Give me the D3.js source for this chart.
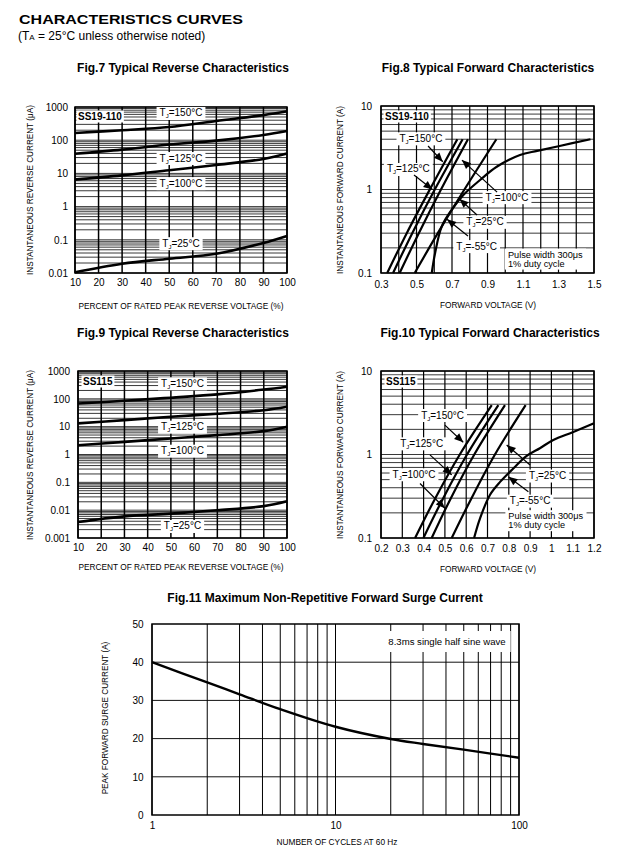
<!DOCTYPE html>
<html>
<head>
<meta charset="utf-8">
<script src="https://cdn.jsdelivr.net/npm/d3@7"></script>
<style>
  body { margin: 0; background: #fff; }
  svg text { font-family: "Liberation Sans", Arial, sans-serif; fill: #000; }
</style>
</head>
<body>
<svg id="chart" width="637" height="850"></svg>
<script>
// ---- data ----
// reverse characteristics, x = percent of rated peak reverse voltage
var revPercent = [10, 30, 50, 70, 90, 100];
var fig7T150 = [165, 200, 250, 380, 570, 740];
var fig7T125 = [39, 52, 74, 97, 144, 189];
var fig7T100 = [6.5, 8.7, 12.5, 17.9, 27.2, 40];
var fig7T25  = [0.0105, 0.019, 0.027, 0.038, 0.08, 0.13];

var fig9T150 = [68, 85, 110, 145, 215, 273];
var fig9T125 = [13.1, 17.2, 22.6, 29, 39, 52];
var fig9T100 = [2.15, 2.85, 3.76, 4.96, 6.9, 10];
var fig9T25  = [0.00375, 0.006, 0.0075, 0.0099, 0.014, 0.021];

// forward characteristics, [volts, amps]
var fig8T150 = [[0.335, 0.1], [0.445, 0.3], [0.575, 1], [0.73, 4]];
var fig8T125 = [[0.368, 0.1], [0.476, 0.3], [0.603, 1], [0.76, 4]];
var fig8T100 = [[0.405, 0.1], [0.513, 0.3], [0.638, 1], [0.79, 4]];
var fig8T25  = [[0.49, 0.1], [0.62, 0.3], [0.77, 1], [0.95, 4]];
var fig8Tm55 = [[0.586, 0.1], [0.604, 0.17], [0.642, 0.36], [0.698, 0.57], [0.764, 0.86],
                [0.858, 1.3], [0.952, 1.87], [1.083, 2.59], [1.18, 2.9], [1.3, 3.3], [1.48, 4]];

var fig10T150 = [[0.36, 0.1], [0.455, 0.3], [0.57, 1], [0.72, 3.9]];
var fig10T125 = [[0.399, 0.1], [0.492, 0.3], [0.604, 1], [0.751, 3.9]];
var fig10T100 = [[0.438, 0.1], [0.528, 0.3], [0.638, 1], [0.782, 3.9]];
var fig10T25  = [[0.532, 0.1], [0.625, 0.3], [0.735, 1], [0.879, 3.9]];
var fig10Tm55 = [[0.637, 0.1], [0.665, 0.172], [0.712, 0.33], [0.759, 0.47], [0.821, 0.68],
                 [0.884, 0.96], [0.946, 1.19], [1.009, 1.49], [1.1, 1.85], [1.2, 2.37]];

// surge current
var surgeCycles = [1, 2, 3, 5, 10, 20, 30, 50, 100];
var surgeAmps   = [40, 34.7, 31.6, 27.7, 23.1, 19.9, 18.6, 17.1, 15];

// tick labels
var revXTicks = [10, 20, 30, 40, 50, 60, 70, 80, 90, 100];
var fig7YTicks = [0.01, 0.1, 1, 10, 100, 1000];
var fig9YTicks = [0.001, 0.01, 0.1, 1, 10, 100, 1000];
var fwdYTicks = [0.1, 1, 10];
var fig8XTicks = [0.3, 0.5, 0.7, 0.9, 1.1, 1.3, 1.5];
var fig10XTicks = [0.2, 0.3, 0.4, 0.5, 0.6, 0.7, 0.8, 0.9, 1, 1.1, 1.2];
var surgeXTicks = [1, 10, 100];
var surgeYTicks = [0, 10, 20, 30, 40, 50];

var svg = d3.select("#chart");

// ---- header ----
svg.append("text").attr("x", 19).attr("y", 24)
  .attr("textLength", 224).attr("lengthAdjust", "spacingAndGlyphs")
  .style("font-size", "13.5px").style("font-weight", "bold")
  .text("CHARACTERISTICS CURVES");
var sub = svg.append("text").attr("x", 18).attr("y", 40).style("font-size", "12px");
sub.append("tspan").text("(T");
sub.append("tspan").style("font-size", "8px").text("A");
sub.append("tspan").text(" = 25°C unless otherwise noted)");

function title(x, y, txt) {
  svg.append("text").attr("x", x).attr("y", y).attr("text-anchor", "middle")
    .style("font-size", "12px").style("font-weight", "bold").text(txt);
}
title(183, 72, "Fig.7 Typical Reverse Characteristics");
title(488, 72, "Fig.8 Typical Forward Characteristics");
title(183, 337, "Fig.9 Typical Reverse Characteristics");
title(490, 337, "Fig.10 Typical Forward Characteristics");
title(325, 602, "Fig.11 Maximum Non-Repetitive Forward Surge Current");

// ---- panel builder ----
function panel(p) {
  var x = p.x.range([p.x0, p.x1]);
  var y = p.y.range([p.y1, p.y0]);
  var g = svg.append("g");

  g.append("g").selectAll("line").data(p.hGrid).join("line")
    .attr("x1", p.x0).attr("x2", p.x1)
    .attr("y1", function(d) { return y(d); }).attr("y2", function(d) { return y(d); })
    .attr("stroke", p.hColor || "#222").attr("stroke-width", p.hw || 0.9);
  g.append("g").selectAll("line").data(p.vGrid).join("line")
    .attr("y1", p.y0).attr("y2", p.y1)
    .attr("x1", function(d) { return x(d); }).attr("x2", function(d) { return x(d); })
    .attr("stroke", "#000").attr("stroke-width", p.vw || 1.2);

  g.append("rect").attr("x", p.x0).attr("y", p.y0)
    .attr("width", p.x1 - p.x0).attr("height", p.y1 - p.y0)
    .attr("fill", "none").attr("stroke", "#000").attr("stroke-width", 1.5);

  var ax = g.append("g").attr("transform", "translate(0," + p.y1 + ")")
    .call(d3.axisBottom(x).tickValues(p.xTicks).tickSize(0).tickPadding(p.xPad)
      .tickFormat(function(d) { return String(d); }));
  ax.select(".domain").remove();
  ax.attr("font-family", null).attr("font-size", null);
  ax.selectAll("text").style("font-size", "10px");

  var ay = g.append("g").attr("transform", "translate(" + p.x0 + ",0)")
    .call(d3.axisLeft(y).tickValues(p.yTicks).tickSize(0).tickPadding(p.yPad)
      .tickFormat(function(d) { return String(d); }));
  ay.select(".domain").remove();
  ay.attr("font-family", null).attr("font-size", null);
  ay.selectAll("text").style("font-size", "10px");

  g.append("text").attr("x", p.xtX).attr("y", p.xtY).attr("text-anchor", "middle")
    .style("font-size", "8.3px").text(p.xTitle);
  g.append("text").attr("transform", "translate(" + p.ytX + "," + p.ytY + ") rotate(-90)")
    .attr("text-anchor", "middle").style("font-size", "8.2px").text(p.yTitle);

  return { g: g, x: x, y: y };
}

// white box behind a piece of text
function boxedText(g, px, py, build, anchor, padX, padY) {
  var gg = g.append("g");
  var r = gg.append("rect").attr("fill", "#fff");
  build(gg, px, py, anchor || "middle");
  var b = gg.node().getBBox();
  r.attr("x", b.x - padX).attr("y", b.y - padY)
    .attr("width", b.width + 2 * padX).attr("height", b.height + 2 * padY);
  return gg;
}

function tag(g, px, py, temp) {
  boxedText(g, px, py + 3.5, function(gg, x, y, anchor) {
    var t = gg.append("text").attr("x", x).attr("y", y).attr("text-anchor", anchor)
      .style("font-size", "10px");
    t.append("tspan").text("T");
    t.append("tspan").attr("dy", 2).style("font-size", "6px").text("J");
    t.append("tspan").attr("dy", -2).text("=" + temp + "°C");
  }, "middle", 3, 0.5);
}

function deviceName(g, px, py, name) {
  boxedText(g, px, py, function(gg, x, y, anchor) {
    gg.append("text").attr("x", x).attr("y", y).attr("text-anchor", anchor)
      .style("font-size", "10px").style("font-weight", "bold").text(name);
  }, "start", 1.5, 0.5);
}

function pulse(g, px, py) {
  boxedText(g, px, py, function(gg, x, y, anchor) {
    gg.append("text").attr("x", x).attr("y", y).attr("text-anchor", anchor)
      .style("font-size", "9.2px").text("Pulse width 300μs");
    gg.append("text").attr("x", x).attr("y", y + 9).attr("text-anchor", anchor)
      .style("font-size", "9.2px").text("1% duty cycle");
  }, "start", 3, 1);
}

function arrow(g, x1, y1, x2, y2) {
  g.append("line").attr("x1", x1).attr("y1", y1).attr("x2", x2).attr("y2", y2)
    .attr("stroke", "#000").attr("stroke-width", 1.2);
  var a = Math.atan2(y2 - y1, x2 - x1), L = 9, W = 3.8;
  var bx = x2 - L * Math.cos(a), by = y2 - L * Math.sin(a);
  var pts = [[x2, y2],
    [bx + W * Math.sin(a), by - W * Math.cos(a)],
    [bx - W * Math.sin(a), by + W * Math.cos(a)]];
  g.append("polygon").attr("points", pts.map(function(p) { return p.join(","); }).join(" "))
    .attr("fill", "#000");
}

function revCurve(P, values) {
  var line = d3.line()
    .x(function(d, i) { return P.x(revPercent[i]); })
    .y(function(d) { return P.y(d); })
    .curve(d3.curveCatmullRom.alpha(0.5));
  P.g.append("path").datum(values).attr("d", line)
    .attr("fill", "none").attr("stroke", "#000").attr("stroke-width", 2.6);
}

function fwdCurve(P, pts) {
  var line = d3.line()
    .x(function(d) { return P.x(d[0]); })
    .y(function(d) { return P.y(d[1]); })
    .curve(d3.curveCatmullRom.alpha(0.5));
  P.g.append("path").datum(pts).attr("d", line)
    .attr("fill", "none").attr("stroke", "#000").attr("stroke-width", 2.2);
}

// ---- Fig.7 ----
var y7 = d3.scaleLog().domain([0.01, 1000]);
var P7 = panel({
  x: d3.scaleLinear().domain([10, 100]), y: y7,
  x0: 75, x1: 287, y0: 107, y1: 273,
  hGrid: y7.ticks(), vGrid: revXTicks, vw: 1.5,
  xTicks: revXTicks, yTicks: fig7YTicks, xPad: 6, yPad: 7,
  xTitle: "PERCENT OF RATED PEAK REVERSE VOLTAGE (%)", xtX: 181, xtY: 309,
  yTitle: "INSTANTANEOUS REVERSE CURRENT (μA)", ytX: 32.5, ytY: 190
});
deviceName(P7.g, P7.x(10) + 3, P7.y(1000) + 13, "SS19-110");
tag(P7.g, P7.x(55), P7.y(660), 150);
tag(P7.g, P7.x(55), P7.y(29), 125);
tag(P7.g, P7.x(55), P7.y(5.1), 100);
tag(P7.g, P7.x(55), P7.y(0.079), 25);
revCurve(P7, fig7T150);
revCurve(P7, fig7T125);
revCurve(P7, fig7T100);
revCurve(P7, fig7T25);

// ---- Fig.9 ----
var y9 = d3.scaleLog().domain([0.001, 1000]);
var P9 = panel({
  x: d3.scaleLinear().domain([10, 100]), y: y9,
  x0: 78, x1: 287, y0: 371, y1: 538,
  hGrid: y9.ticks(), vGrid: revXTicks, vw: 1.5,
  xTicks: revXTicks, yTicks: fig9YTicks, xPad: 6, yPad: 8,
  xTitle: "PERCENT OF RATED PEAK REVERSE VOLTAGE (%)", xtX: 181, xtY: 570,
  yTitle: "INSTANTANEOUS REVERSE CURRENT (μA)", ytX: 32.5, ytY: 455
});
deviceName(P9.g, P9.x(10) + 5, P9.y(1000) + 14, "SS115");
tag(P9.g, P9.x(55), P9.y(361), 150);
tag(P9.g, P9.x(55), P9.y(10), 125);
tag(P9.g, P9.x(55), P9.y(1.37), 100);
tag(P9.g, P9.x(55), P9.y(0.0027), 25);
revCurve(P9, fig9T150);
revCurve(P9, fig9T125);
revCurve(P9, fig9T100);
revCurve(P9, fig9T25);

// ---- Fig.8 ----
var x8 = d3.scaleLinear().domain([0.3, 1.5]);
var y8 = d3.scaleLog().domain([0.1, 10]);
var P8 = panel({
  x: x8, y: y8,
  x0: 381, x1: 594, y0: 106, y1: 273,
  hGrid: y8.ticks(), vGrid: x8.ticks(12),
  xTicks: fig8XTicks, yTicks: fwdYTicks, xPad: 7.5, yPad: 9,
  xTitle: "FORWARD VOLTAGE (V)", xtX: 488, xtY: 308,
  yTitle: "INSTANTANEOUS FORWARD CURRENT (A)", ytX: 343, ytY: 190
});
deviceName(P8.g, P8.x(0.3) + 4, P8.y(10) + 14, "SS19-110");
tag(P8.g, P8.x(0.525), P8.y(4.1), 150);
tag(P8.g, P8.x(0.454), P8.y(1.76), 125);
tag(P8.g, P8.x(1.01), P8.y(0.81), 100);
tag(P8.g, P8.x(0.886), P8.y(0.41), 25);
tag(P8.g, P8.x(0.839), P8.y(0.21), -55);
pulse(P8.g, P8.x(1.015), P8.y(0.153));
fwdCurve(P8, fig8T150);
fwdCurve(P8, fig8T125);
fwdCurve(P8, fig8T100);
fwdCurve(P8, fig8T25);
fwdCurve(P8, fig8Tm55);
arrow(P8.g, P8.x(0.565), P8.y(3.32), P8.x(0.648), P8.y(2.15));
arrow(P8.g, P8.x(0.486), P8.y(1.49), P8.x(0.59), P8.y(1.0));
arrow(P8.g, P8.x(0.954), P8.y(0.93), P8.x(0.756), P8.y(2.25));
arrow(P8.g, P8.x(0.841), P8.y(0.495), P8.x(0.742), P8.y(0.77));
arrow(P8.g, P8.x(0.79), P8.y(0.277), P8.x(0.672), P8.y(0.44));

// ---- Fig.10 ----
var x10 = d3.scaleLinear().domain([0.2, 1.2]);
var y10 = d3.scaleLog().domain([0.1, 10]);
var P10 = panel({
  x: x10, y: y10,
  x0: 381, x1: 594, y0: 371, y1: 538,
  hGrid: y10.ticks(), vGrid: x10.ticks(10),
  xTicks: fig10XTicks, yTicks: fwdYTicks, xPad: 7, yPad: 9,
  xTitle: "FORWARD VOLTAGE (V)", xtX: 488, xtY: 572,
  yTitle: "INSTANTANEOUS FORWARD CURRENT (A)", ytX: 343, ytY: 455
});
deviceName(P10.g, P10.x(0.2) + 5, P10.y(10) + 14, "SS115");
tag(P10.g, P10.x(0.489), P10.y(2.97), 150);
tag(P10.g, P10.x(0.391), P10.y(1.36), 125);
tag(P10.g, P10.x(0.355), P10.y(0.58), 100);
tag(P10.g, P10.x(0.982), P10.y(0.56), 25);
tag(P10.g, P10.x(0.9), P10.y(0.28), -55);
pulse(P10.g, P10.x(0.798), P10.y(0.168));
fwdCurve(P10, fig10T150);
fwdCurve(P10, fig10T125);
fwdCurve(P10, fig10T100);
fwdCurve(P10, fig10T25);
fwdCurve(P10, fig10Tm55);
arrow(P10.g, P10.x(0.5), P10.y(2.25), P10.x(0.586), P10.y(1.4));
arrow(P10.g, P10.x(0.43), P10.y(0.99), P10.x(0.532), P10.y(0.57));
arrow(P10.g, P10.x(0.383), P10.y(0.45), P10.x(0.5), P10.y(0.227));
arrow(P10.g, P10.x(0.9), P10.y(0.75), P10.x(0.79), P10.y(1.3));
arrow(P10.g, P10.x(0.892), P10.y(0.358), P10.x(0.798), P10.y(0.54));

// ---- Fig.11 ----
var x11 = d3.scaleLog().domain([1, 100]);
var P11 = panel({
  x: x11, y: d3.scaleLinear().domain([0, 50]),
  x0: 152, x1: 519, y0: 624, y1: 815,
  hGrid: [10, 20, 30, 40], vGrid: x11.ticks(), vw: 1, hColor: "#111", hw: 1,
  xTicks: surgeXTicks, yTicks: surgeYTicks, xPad: 7, yPad: 8.5,
  xTitle: "NUMBER OF CYCLES AT 60 Hz", xtX: 337, xtY: 844.5,
  yTitle: "PEAK FORWARD SURGE CURRENT (A)", ytX: 108, ytY: 718
});
boxedText(P11.g, P11.x(19.4), P11.y(44.5), function(gg, x, y, anchor) {
  gg.append("text").attr("x", x).attr("y", y).attr("text-anchor", anchor)
    .style("font-size", "9.6px").text("8.3ms single half sine wave");
}, "start", 5, 5);
P11.g.append("path").datum(surgeAmps)
  .attr("d", d3.line()
    .x(function(d, i) { return P11.x(surgeCycles[i]); })
    .y(function(d) { return P11.y(d); })
    .curve(d3.curveCatmullRom.alpha(0.5)))
  .attr("fill", "none").attr("stroke", "#000").attr("stroke-width", 2.4);
</script>
</body>
</html>
